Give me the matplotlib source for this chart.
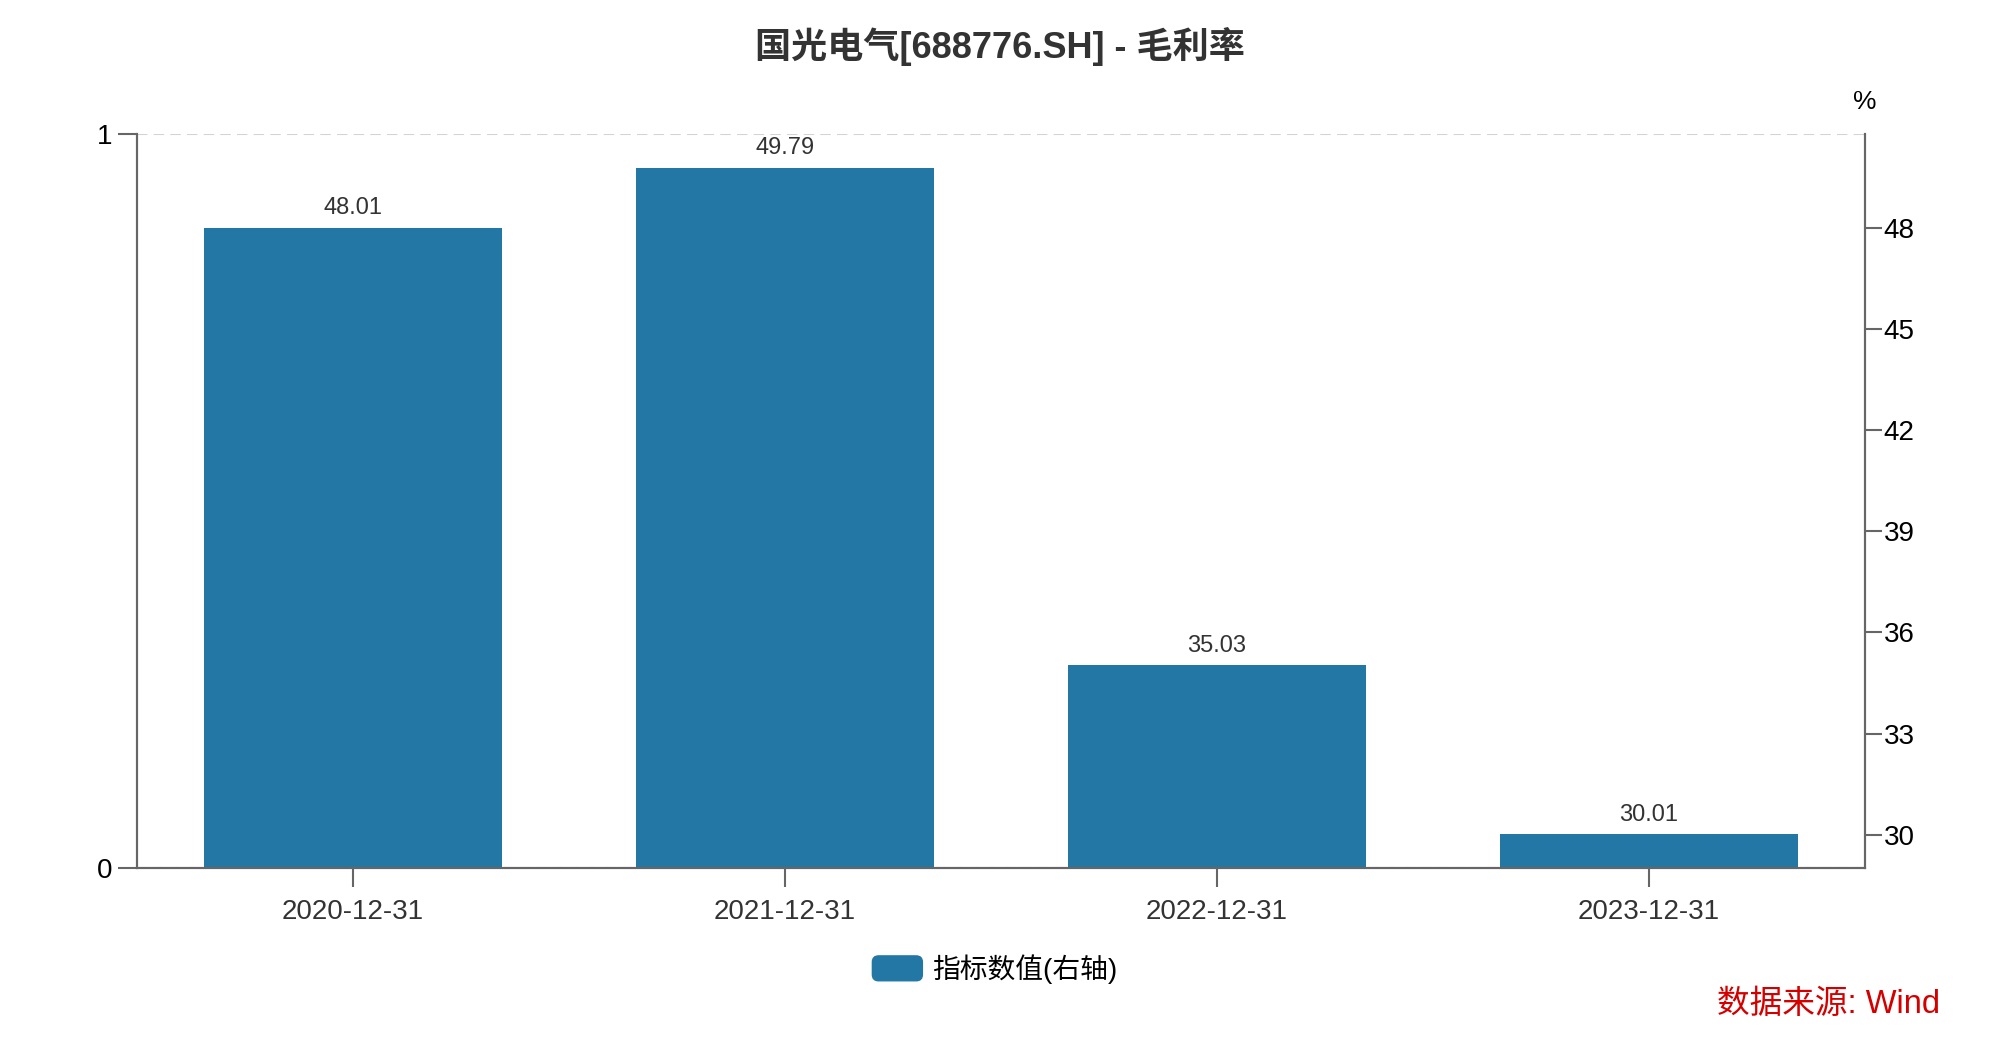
"""Gross margin bar chart for 国光电气 (688776.SH), values on the right axis."""

import matplotlib

matplotlib.use("Agg")
import matplotlib.pyplot as plt
from matplotlib.legend_handler import HandlerPatch
from matplotlib.patches import FancyBboxPatch, Patch

plt.rcParams["font.family"] = ["Liberation Sans", "Noto Sans CJK SC", "DejaVu Sans"]

TITLE = "国光电气[688776.SH] - 毛利率"
DATES = ["2020-12-31", "2021-12-31", "2022-12-31", "2023-12-31"]
GROSS_MARGIN = [48.01, 49.79, 35.03, 30.01]
RIGHT_TICKS = [30, 33, 36, 39, 42, 45, 48]
LEFT_TICKS = [0, 1]
SERIES_LABEL = "指标数值(右轴)"
UNIT = "%"
SOURCE = "数据来源: Wind"

BAR_COLOR = "#2377a4"
AXIS_COLOR = "#666666"


def rounded_handle(legend, orig_handle, xdescent, ydescent, width, height, fontsize):
    return FancyBboxPatch(
        (-xdescent, -ydescent), width, height,
        boxstyle=f"round,pad=0,rounding_size={height * 0.25}",
        facecolor=BAR_COLOR, edgecolor="none",
    )


fig = plt.figure(figsize=(20, 10.44), dpi=100)
ax = fig.add_axes([0.0685, 0.1686, 0.864, 0.7030])
ax2 = ax.twinx()

x = list(range(len(DATES)))
bars = ax2.bar(x, GROSS_MARGIN, width=0.69, color=BAR_COLOR, zorder=2)
ax2.bar_label(bars, labels=[f"{v:.2f}" for v in GROSS_MARGIN],
              padding=6, fontsize=17, color="#333333")

ax.set_xlim(-0.5, len(DATES) - 0.5)
ax.set_ylim(0, 1)
ax.set_yticks(LEFT_TICKS)
ax.set_xticks(x, DATES)
ax.grid(axis="y", linestyle=(0, (5, 3)), color="#d3d3d3", linewidth=1.5)

ax2.set_ylim(min(GROSS_MARGIN) - 1, max(GROSS_MARGIN) + 1)
ax2.set_yticks(RIGHT_TICKS)

for a in (ax, ax2):
    a.spines["top"].set_visible(False)
    for side in ("left", "right", "bottom"):
        a.spines[side].set_color(AXIS_COLOR)
        a.spines[side].set_linewidth(1.5)

ax.tick_params(axis="x", length=14, width=1.5, color=AXIS_COLOR,
               labelsize=20, labelcolor="#333333", pad=8)
ax.tick_params(axis="y", length=14, width=1.5, color=AXIS_COLOR,
               labelsize=20, labelcolor="black", pad=4)
ax2.tick_params(axis="y", length=12.5, width=1.5, color=AXIS_COLOR,
                labelsize=20, labelcolor="black", pad=1)

ax2.annotate(UNIT, xy=(1, 1), xycoords="axes fraction", xytext=(0, 23),
             textcoords="offset points", ha="center", va="center",
             fontsize=19, color="black")

fig.text(0.5, 1 - 47 / 1044, TITLE, ha="center", va="center",
         fontsize=26, fontweight="bold", color="#333333")

fig.legend(handles=[Patch(color=BAR_COLOR, label=SERIES_LABEL)],
           loc="center", bbox_to_anchor=(0.4975, 1 - 969 / 1044),
           frameon=False, fontsize=20, handlelength=1.8, handleheight=1.0,
           handletextpad=0.36,
           handler_map={Patch: HandlerPatch(patch_func=rounded_handle)})

fig.text(0.97, 1 - 1005 / 1044, SOURCE, ha="right", va="center",
         fontsize=23.5, color="#d40000")

fig.savefig("out.png", dpi=100)
